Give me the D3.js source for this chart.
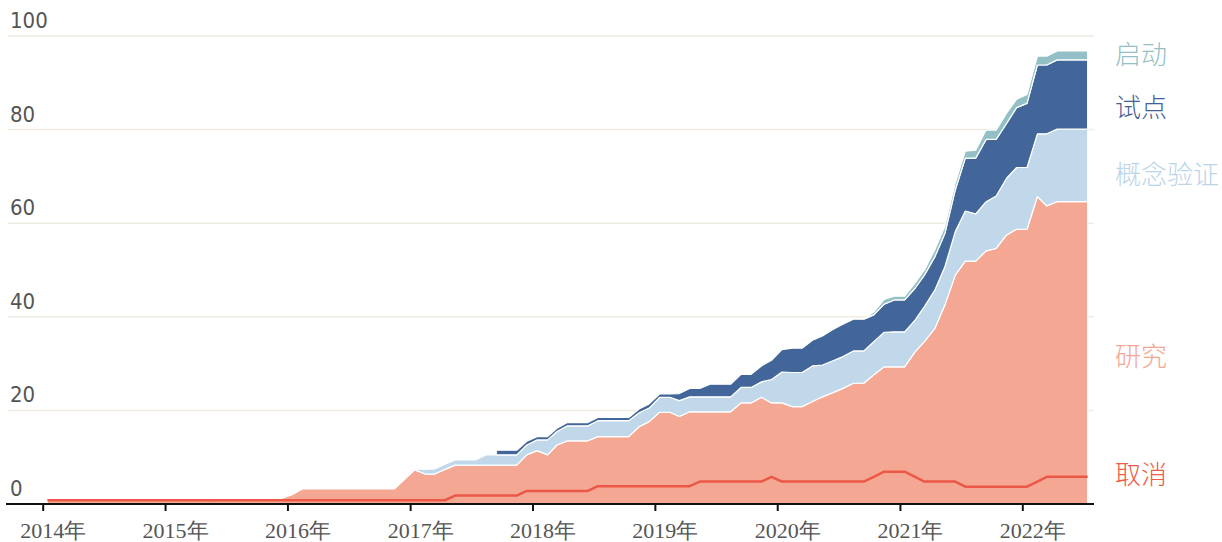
<!DOCTYPE html>
<html>
<head>
<meta charset="utf-8">
<script src="https://cdn.jsdelivr.net/npm/d3@7"></script>
<style>
  body { margin: 0; background: #fff; }
  svg { display: block; }
</style>
</head>
<body>
<svg width="1222" height="542"></svg>
<script>
// monthly values, Jan 2014 .. Jul 2022 (null = stage not yet present)
var research = [
  1,1,1,1,1,1,1,1,1,1,1,1,
  1,1,1,1,1,1.2,1.2,1.2,1.2,1.2,1.2,1.2,
  2,3.2,3.2,3.2,3.2,3.2,3.2,3.2,3.2,3.2,3.2,5.2,
  7.3,6.4,6.4,7.4,8.3,8.3,8.3,8.3,8.3,8.3,8.3,10.5,
  11.4,10.5,12.6,13.5,13.5,13.5,14.4,14.4,14.4,14.4,16.5,17.6,
  19.6,19.6,18.7,19.7,19.7,19.7,19.7,19.7,21.6,21.6,22.8,21.6,
  21.6,20.8,20.8,21.9,22.9,23.8,24.7,25.8,25.8,27.6,29.3,29.3,
  29.3,32.5,34.7,37.5,42.5,48.9,51.9,51.9,54.1,54.6,57.5,58.7,
  58.7,65.7,63.7,64.6,64.6,64.6,64.6
];
var concept = [
  null,null,null,null,null,null,null,null,null,null,null,null,
  null,null,null,null,null,null,null,null,null,null,null,null,
  null,null,null,null,null,null,null,null,null,null,null,null,
  0.2,1,1.1,1.1,1.1,1.1,1.1,2.2,2.2,2.2,2.2,2.1,
  2.3,3.2,2.9,3.2,3.2,3.2,3.4,3.4,3.4,3.4,3,2.9,
  3.2,3.2,3.4,3.2,3.2,3.2,3.2,3.2,3.3,3.3,3.3,5,
  6.6,7.3,7.3,7.6,6.8,6.8,6.8,6.9,6.9,7.1,7.4,7.5,
  7.5,6.8,7.5,8.2,8.2,9.3,10.7,10.1,10.5,11.2,12.1,13.2,
  13.2,13.4,15.4,15.5,15.5,15.5,15.5
];
var pilot = [
  null,null,null,null,null,null,null,null,null,null,null,null,
  null,null,null,null,null,null,null,null,null,null,null,null,
  null,null,null,null,null,null,null,null,null,null,null,null,
  null,null,null,null,null,null,null,null,1,1,1,0.8,
  0.7,0.7,0.7,0.7,0.7,0.7,0.7,0.7,0.7,0.7,0.8,0.9,
  0.7,0.7,1.5,1.8,1.8,2.7,2.7,2.7,2.8,2.8,3.4,4.1,
  4.8,5.2,5.2,5.5,6.2,6.7,6.9,6.8,6.8,5.7,6,6.8,
  6.8,6.8,6.7,7.1,7.1,8.9,11.3,11.9,13.3,12.1,11.7,12.8,
  13.7,14.7,14.7,14.8,14.8,14.8,14.8
];
var launched = [
  null,null,null,null,null,null,null,null,null,null,null,null,
  null,null,null,null,null,null,null,null,null,null,null,null,
  null,null,null,null,null,null,null,null,null,null,null,null,
  null,null,null,null,null,null,null,null,null,null,null,null,
  null,null,null,null,null,null,null,null,null,null,null,null,
  null,null,null,null,null,null,null,null,null,null,null,null,
  null,null,null,null,null,null,null,null,0,0.6,1,0.8,
  0.8,1.1,1.1,1.5,1.5,1.5,1.5,1.7,2,2,2.2,1.8,
  1.9,1.9,1.9,1.9,1.9,1.9,1.9
];
var cancelled = [
  0.8,0.8,0.8,0.8,0.8,0.8,0.8,0.8,0.8,0.8,0.8,0.8,
  0.8,0.8,0.8,0.8,0.8,0.8,0.8,0.8,0.8,0.8,0.8,0.8,
  0.8,0.8,0.8,0.8,0.8,0.8,0.8,0.8,0.8,0.8,0.8,0.8,
  0.8,0.8,0.8,0.8,1.8,1.8,1.8,1.8,1.8,1.8,1.8,2.8,
  2.8,2.8,2.8,2.8,2.8,2.8,3.8,3.8,3.8,3.8,3.8,3.8,
  3.8,3.8,3.8,3.8,4.8,4.8,4.8,4.8,4.8,4.8,4.8,5.8,
  4.8,4.8,4.8,4.8,4.8,4.8,4.8,4.8,4.8,5.8,6.9,6.9,
  6.9,5.8,4.8,4.8,4.8,4.8,3.7,3.7,3.7,3.7,3.7,3.7,
  3.7,4.8,5.8,5.8,5.8,5.8,5.8
];

var keys = ["研究", "概念验证", "试点", "启动"];
var colors = ["#f4a793", "#c1d8eb", "#426699", "#92c0c6"];
var yTicks = [0, 20, 40, 60, 80, 100];
var years = [2014, 2015, 2016, 2017, 2018, 2019, 2020, 2021, 2022];

var labels = [
  {text: "启动", color: "#93c1c6", y: 64},
  {text: "试点", color: "#3f6197", y: 117},
  {text: "概念验证", color: "#bad4e9", y: 184},
  {text: "研究", color: "#f3a690", y: 366},
  {text: "取消", color: "#ee5a48", y: 484}
];

var svg = d3.select("svg");

var months = research.map(function(d, i) { return new Date(2014, i, 15); });

var x = d3.scaleTime()
  .domain([new Date(2014, 0, 1), new Date(2022, 0, 1)])
  .range([42.7, 1022.3]);
var y = d3.scaleLinear().domain([0, 100]).range([504, 36]);

// gridlines
svg.append("g").selectAll("line")
  .data(yTicks.slice(1))
  .enter().append("line")
  .attr("x1", 8).attr("x2", 1094)
  .attr("y1", function(d) { return y(d); })
  .attr("y2", function(d) { return y(d); })
  .attr("stroke", "#efebe0")
  .attr("stroke-width", 1.5);

// y labels sit above the gridlines
svg.append("g").selectAll("text")
  .data(yTicks)
  .enter().append("text")
  .attr("x", 10)
  .attr("y", function(d) { return y(d) - 8; })
  .attr("font-family", "'Liberation Sans Narrow', 'DejaVu Sans Condensed', 'Roboto', sans-serif")
  .attr("font-size", "22px")
  .attr("fill", "#555")
  .text(function(d) { return d; });

var rows = months.map(function(m, i) {
  return {date: m, "研究": research[i], "概念验证": concept[i], "试点": pilot[i], "启动": launched[i]};
});

var series = d3.stack()
  .keys(keys)
  .value(function(d, k) { return d[k] == null ? 0 : d[k]; })(rows);

svg.append("g").selectAll("path")
  .data(series)
  .enter().append("path")
  .attr("fill", function(d, i) { return colors[i]; })
  .attr("stroke", "#fff")
  .attr("stroke-width", 1.2)
  .attr("stroke-linejoin", "round")
  .attr("d", function(s) {
    return d3.area()
      .defined(function(p) { return p.data[s.key] != null; })
      .x(function(p) { return x(p.data.date); })
      .y0(function(p) { return y(p[0]); })
      .y1(function(p) { return y(p[1]); })(s);
  });

// cancelled line
svg.append("path")
  .datum(cancelled)
  .attr("fill", "none")
  .attr("stroke", "#ec5847")
  .attr("stroke-width", 2.5)
  .attr("stroke-linejoin", "round")
  .attr("d", d3.line()
    .x(function(d, i) { return x(months[i]); })
    .y(function(d) { return y(d); }));

// x axis
var xAxis = svg.append("g")
  .attr("transform", "translate(0,504)")
  .call(d3.axisBottom(x)
    .tickValues(years.map(function(yr) { return new Date(yr, 0, 1); }))
    .tickSize(7)
    .tickFormat(function(d) { return d.getFullYear() + "年"; }));
xAxis.select(".domain").remove();
xAxis.selectAll(".tick line").attr("stroke", "#111").attr("stroke-width", 2);
xAxis.selectAll(".tick text")
  .attr("y", 34).attr("dy", 0).attr("dx", 10)
  .attr("fill", "#555")
  .attr("font-family", "'Liberation Serif', 'DejaVu Serif', serif")
  .attr("font-size", "22px");
xAxis.append("line")
  .attr("x1", 6).attr("x2", 1094)
  .attr("stroke", "#111").attr("stroke-width", 2);

// series labels on the right
svg.append("g").selectAll("text")
  .data(labels)
  .enter().append("text")
  .attr("x", 1115)
  .attr("y", function(d) { return d.y; })
  .attr("fill", function(d) { return d.color; })
  .attr("font-family", "'Noto Sans CJK SC', sans-serif")
  .attr("font-weight", 300)
  .attr("font-size", "26px")
  .text(function(d) { return d.text; });
</script>
</body>
</html>
